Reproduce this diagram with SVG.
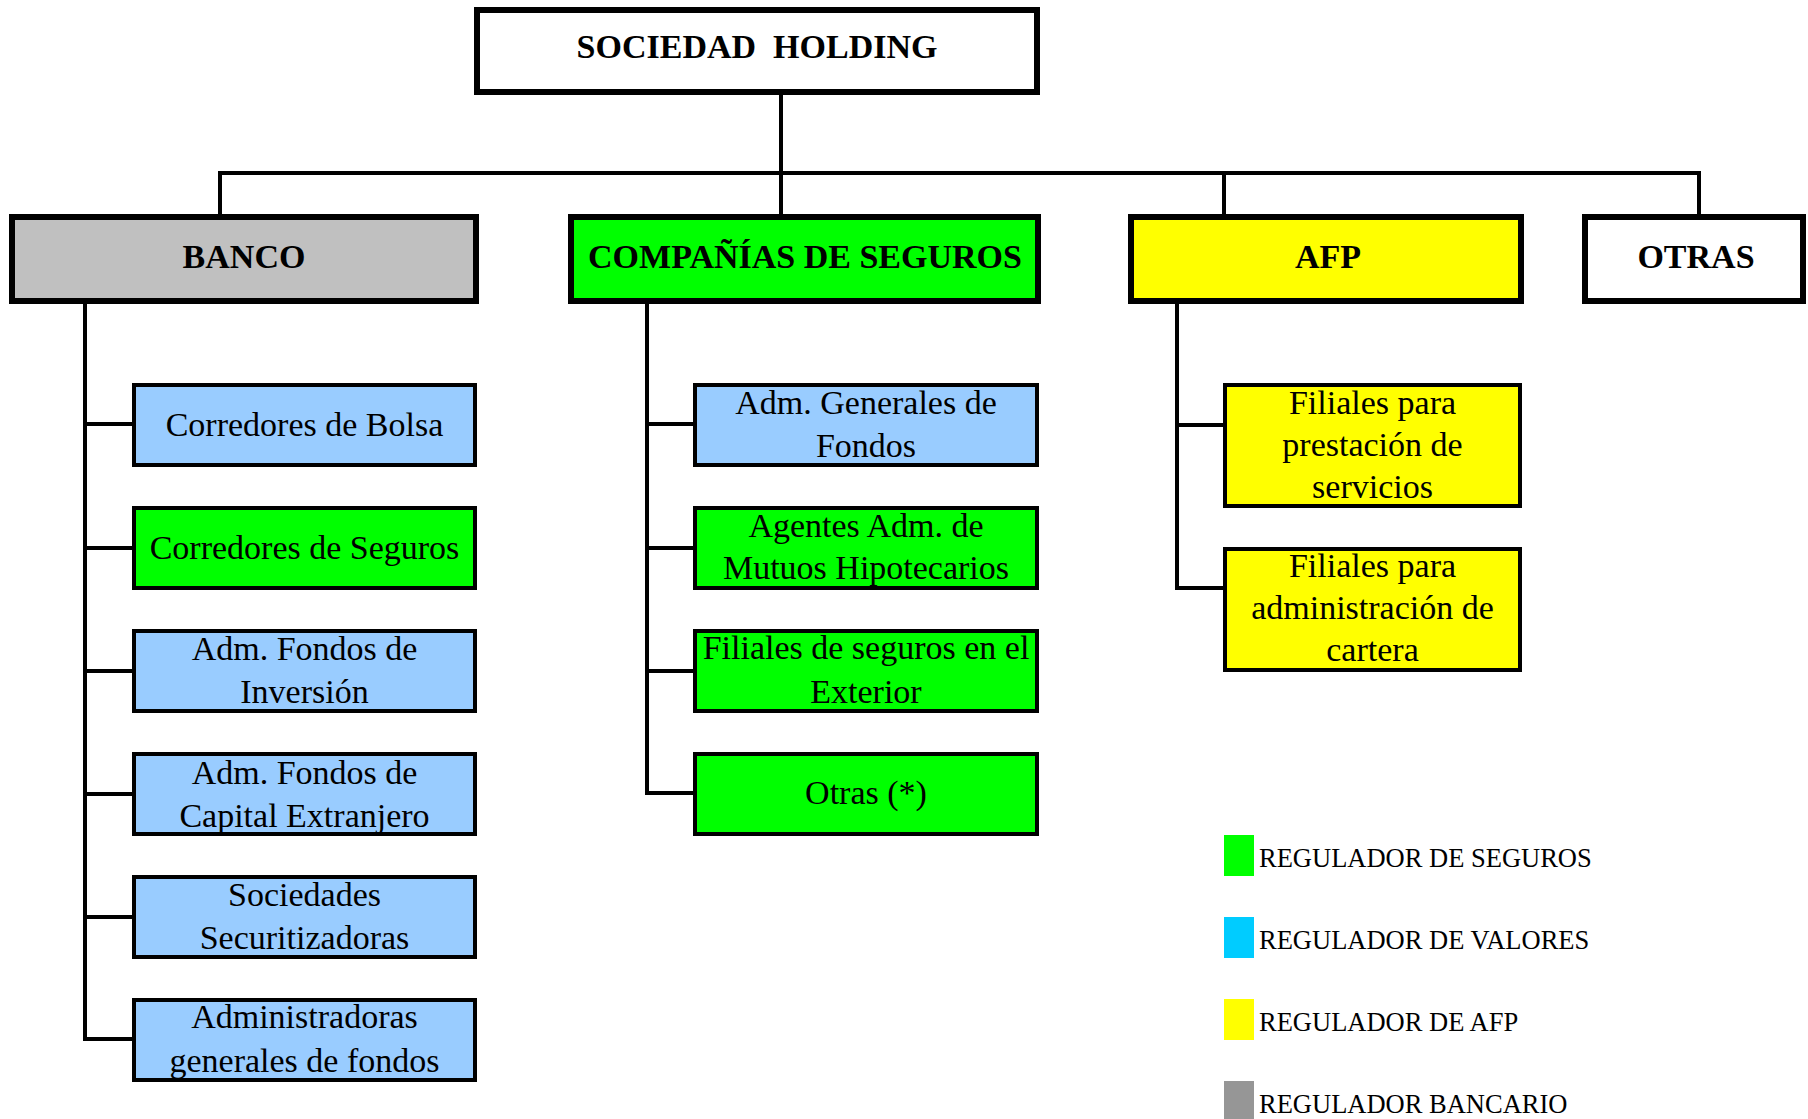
<svg xmlns="http://www.w3.org/2000/svg" width="1808" height="1119" viewBox="0 0 1808 1119">
<style>
.main{stroke:#000;stroke-width:6}
.child{stroke:#000;stroke-width:4}
.conn{stroke:#000;stroke-width:4;fill:none;stroke-linejoin:miter}
.hd{font-family:"Liberation Serif","Times New Roman",serif;font-weight:bold;font-size:34px;text-anchor:middle;fill:#000;white-space:pre}
.tx{font-family:"Liberation Serif","Times New Roman",serif;font-size:34px;text-anchor:middle;fill:#000}
.lg{font-family:"Liberation Serif","Times New Roman",serif;font-size:26.5px;fill:#000}
.blue{fill:#99CCFF}.green{fill:#00FF00}.yellow{fill:#FFFF00}.gray{fill:#C0C0C0}.white{fill:#FFFFFF}
</style>
<rect width="1808" height="1119" fill="#FFFFFF"/>
<g id="connectors">
<path class="conn" d="M781,95 V214 M220,214 V173 H1699 V214 M1224,173 V214"/>
<path class="conn" d="M85,304 V1039 H132 M85,424 H132 M85,548 H132 M85,671 H132 M85,794 H132 M85,917 H132"/>
<path class="conn" d="M647,304 V793 H693 M647,424 H693 M647,548 H693 M647,671 H693"/>
<path class="conn" d="M1177,304 V588 H1223 M1177,425 H1223"/>
</g>
<g id="holding"><rect class="main white" x="477" y="10" width="560" height="82"/><text class="hd" x="757" y="58" xml:space="preserve">SOCIEDAD  HOLDING</text></g>
<g id="banco"><rect class="main gray" x="12" y="217" width="464" height="84"/><text class="hd" x="244" y="268">BANCO</text></g>
<g id="companias"><rect class="main green" x="571" y="217" width="467" height="84"/><text class="hd" x="805" y="268">COMPAÑÍAS DE SEGUROS</text></g>
<g id="afp"><rect class="main yellow" x="1131" y="217" width="390" height="84"/><text class="hd" x="1328" y="268">AFP</text></g>
<g id="otras"><rect class="main white" x="1585" y="217" width="218" height="84"/><text class="hd" x="1696" y="268">OTRAS</text></g>

<g id="corredores-bolsa"><rect class="child blue" x="134" y="385" width="341" height="80"/><text class="tx" x="304.5" y="436">Corredores de Bolsa</text></g>
<g id="corredores-seguros"><rect class="child green" x="134" y="508" width="341" height="80"/><text class="tx" x="304.5" y="559">Corredores de Seguros</text></g>
<g id="adm-fondos-inversion"><rect class="child blue" x="134" y="631" width="341" height="80"/><text class="tx" x="304.5" y="660">Adm. Fondos de</text><text class="tx" x="304.5" y="703">Inversión</text></g>
<g id="adm-fondos-capital"><rect class="child blue" x="134" y="754" width="341" height="80"/><text class="tx" x="304.5" y="784">Adm. Fondos de</text><text class="tx" x="304.5" y="827">Capital Extranjero</text></g>
<g id="sociedades-securitizadoras"><rect class="child blue" x="134" y="877" width="341" height="80"/><text class="tx" x="304.5" y="906">Sociedades</text><text class="tx" x="304.5" y="949">Securitizadoras</text></g>
<g id="administradoras-generales"><rect class="child blue" x="134" y="1000" width="341" height="80"/><text class="tx" x="304.5" y="1028">Administradoras</text><text class="tx" x="304.5" y="1072">generales de fondos</text></g>

<g id="adm-generales-fondos"><rect class="child blue" x="695" y="385" width="342" height="80"/><text class="tx" x="866" y="414">Adm. Generales de</text><text class="tx" x="866" y="457">Fondos</text></g>
<g id="agentes-adm"><rect class="child green" x="695" y="508" width="342" height="80"/><text class="tx" x="866" y="537">Agentes Adm. de</text><text class="tx" x="866" y="579">Mutuos Hipotecarios</text></g>
<g id="filiales-seguros-exterior"><rect class="child green" x="695" y="631" width="342" height="80"/><text class="tx" x="866" y="659">Filiales de seguros en el</text><text class="tx" x="866" y="703">Exterior</text></g>
<g id="otras-seguros"><rect class="child green" x="695" y="754" width="342" height="80"/><text class="tx" x="866" y="804">Otras (*)</text></g>

<g id="filiales-servicios"><rect class="child yellow" x="1225" y="385" width="295" height="121"/><text class="tx" x="1372.5" y="414">Filiales para</text><text class="tx" x="1372.5" y="456">prestación de</text><text class="tx" x="1372.5" y="498">servicios</text></g>
<g id="filiales-cartera"><rect class="child yellow" x="1225" y="549" width="295" height="121"/><text class="tx" x="1372.5" y="577">Filiales para</text><text class="tx" x="1372.5" y="619">administración de</text><text class="tx" x="1372.5" y="661">cartera</text></g>

<g id="legend">
<rect x="1224" y="835" width="30" height="41" fill="#00FF00"/><text class="lg" x="1259" y="867">REGULADOR DE SEGUROS</text>
<rect x="1224" y="917" width="30" height="41" fill="#00CCFF"/><text class="lg" x="1259" y="949">REGULADOR DE VALORES</text>
<rect x="1224" y="999" width="30" height="41" fill="#FFFF00"/><text class="lg" x="1259" y="1031">REGULADOR DE AFP</text>
<rect x="1224" y="1081" width="30" height="41" fill="#969696"/><text class="lg" x="1259" y="1113">REGULADOR BANCARIO</text>
</g>
</svg>
